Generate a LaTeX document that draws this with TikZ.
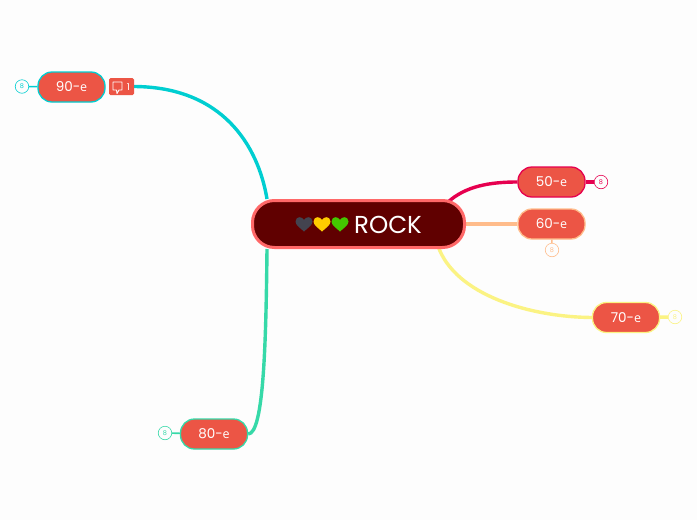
\documentclass[tikz,border=0pt]{standalone}
\usepackage{fontspec}
\setmainfont{Poppins}
\newfontfamily\cyrf{Open Sans}
\usetikzlibrary{backgrounds}
\definecolor{pagebg}{HTML}{FDFDFD}
\definecolor{rootfill}{HTML}{600000}
\definecolor{rootline}{HTML}{FF6868}
\definecolor{topicfill}{HTML}{EC5545}
\definecolor{cteal}{HTML}{00CED1}
\definecolor{cgreen}{HTML}{36D9A8}
\definecolor{cred}{HTML}{E6004F}
\definecolor{corange}{HTML}{FFBC8B}
\definecolor{cyellow}{HTML}{FBF383}
\definecolor{hdark}{HTML}{43434F}
\definecolor{hyellow}{HTML}{FFCC00}
\definecolor{hgreen}{HTML}{44C700}
\tikzset{
  x=1pt,y=-1pt,
  topic/.style={draw=#1,fill=topicfill,line width=1.3pt,rounded corners=14pt,minimum width=67pt,minimum height=30pt,inner sep=0pt,text=white,font=\fontsize{13.5}{15}\selectfont},
  rootnode/.style={draw=rootline,fill=rootfill,line width=3pt,rounded corners=22pt,minimum width=212pt,minimum height=47pt,inner sep=0pt},
  link/.style={draw=#1,line width=3.4pt},
  stub/.style={draw=#1,line width=1.6pt},
  fold/.style={draw=#1,fill=pagebg,line width=.6pt,circle,minimum size=13.5pt,inner sep=0pt,text=#1,font=\fontsize{6.5}{7}\selectfont},
  heartshape/.style={fill=#1,draw=none},
  badge/.style={fill=topicfill,rounded corners=1.5pt,minimum width=25pt,minimum height=17pt,inner sep=0pt},
}
\newcommand{\ye}{{\cyrf\fontsize{12.5}{15}\selectfont е}}
\newcommand{\topictext}[1]{\raisebox{-1pt}{#1-\ye}}
\newcommand{\heartat}[2]{\fill[heartshape=#1,shift={(#2,224)}] (0,7.5) .. controls (-3,4.5) and (-8.5,1.5) .. (-8.5,-2.5) .. controls (-8.5,-5.5) and (-6.3,-6.8) .. (-4.5,-6.8) .. controls (-2.5,-6.8) and (-1,-5.8) .. (0,-4) .. controls (1,-5.8) and (2.5,-6.8) .. (4.5,-6.8) .. controls (6.3,-6.8) and (8.5,-5.5) .. (8.5,-2.5) .. controls (8.5,1.5) and (3,4.5) .. (0,7.5) -- cycle;}
\begin{document}
\begin{tikzpicture}
\useasboundingbox (0,0) rectangle (697,520);
\node[rootnode] (root) at (358.5,224) {};
\heartat{hdark}{304}
\heartat{hyellow}{322}
\heartat{hgreen}{340}
\node[text=white,inner sep=0pt,font=\fontsize{24.5}{26}\selectfont] (title) at (388,225) {ROCK};
\node[topic=cteal] (t90) at (71.5,87) {\topictext{90}};
\node[topic=cred] (t50) at (551.5,182) {\topictext{50}};
\node[topic=corange] (t60) at (551.5,224) {\topictext{60}};
\node[topic=cyellow] (t70) at (626,317.5) {\topictext{70}};
\node[topic=cgreen] (t80) at (214,434) {\topictext{80}};
\node[fold=cteal] (f90) at (22,86.5) {8};
\node[fold=cred] (f50) at (601,182) {8};
\node[fold=corange] (f60) at (552,250) {8};
\node[fold=cyellow] (f70) at (675,317) {8};
\node[fold=cgreen] (f80) at (165,433) {8};
\node[badge] (note) at (121.5,86.5) {};
\node[text=white,inner sep=0pt,font=\fontsize{9.5}{10}\selectfont] (notenum) at (128.5,87) {1};
\draw[white,line width=.9pt,line join=round] (113,82) -- (122,82) -- (122,90) -- (119,90) -- (117,93.5) -- (116.5,90) -- (113,90) -- cycle;
\begin{scope}[on background layer]
\fill[pagebg] (0,0) rectangle (697,520);
\coordinate (r90) at (267,224);
\draw[link=cteal] (note.east) .. controls (222,87) and (258,145) .. (root.north -| r90);
\draw[link=cgreen] (root.south -| r90) .. controls (266,340) and (264,434) .. (t80.east);
\coordinate (r50) at (447,203);
\draw[link=cred] (r50) .. controls (465,186) and (490,182) .. (t50.west);
\draw[link=corange] (root.east) -- (t60.west);
\coordinate (r70) at (438,246);
\draw[link=cyellow] (r70) .. controls (455,295) and (530,317) .. (t70.west);
\draw[stub=cteal] (f90) -- (t90);
\draw[stub=cgreen] (f80) -- (t80);
\draw[link=cred] (t50) -- (f50);
\draw[stub=corange] (t60) -- (f60);
\draw[link=cyellow] (t70) -- (f70);
\end{scope}
\end{tikzpicture}
\end{document}
